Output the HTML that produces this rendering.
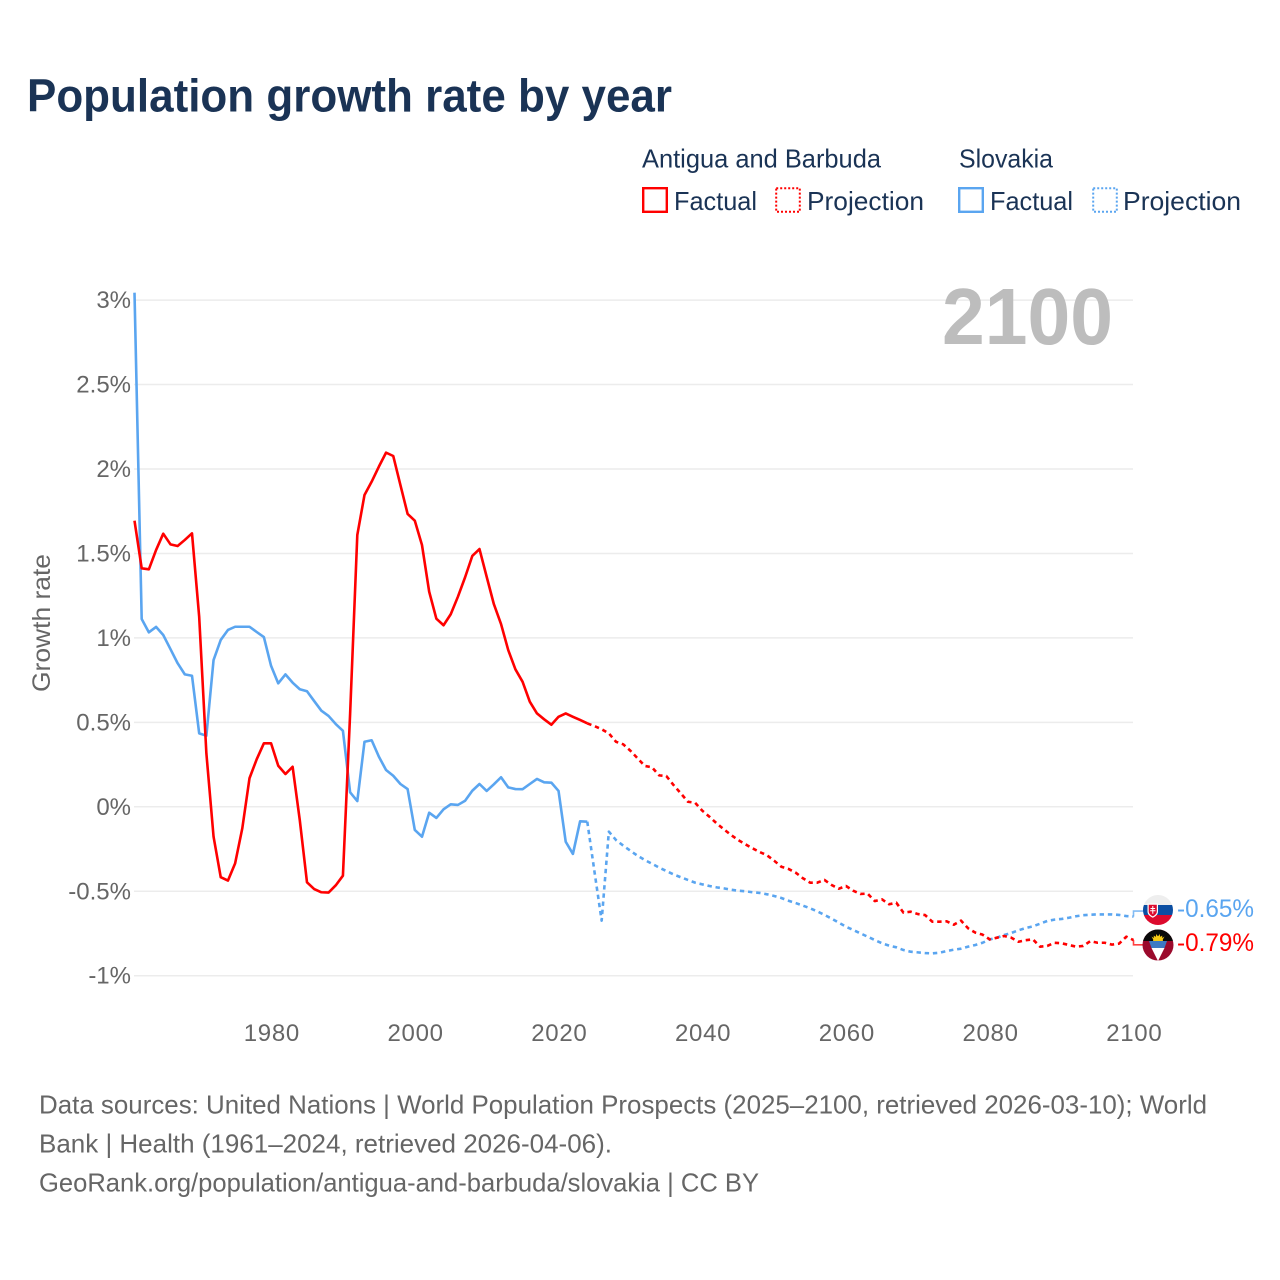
<!DOCTYPE html>
<html lang="en">
<head>
<meta charset="utf-8">
<title>Population growth rate by year</title>
<style>
html,body{margin:0;padding:0;background:#fff;}
svg{display:block;}
text{font-family:"Liberation Sans",sans-serif;}
</style>
</head>
<body>
<svg id="chart" width="1280" height="1280" viewBox="0 0 1280 1280" xmlns="http://www.w3.org/2000/svg">
<rect width="1280" height="1280" fill="#fff"/>
<text x="27" y="111.500" font-size="46" font-weight="700" fill="#1a3355" textLength="645" lengthAdjust="spacingAndGlyphs">Population growth rate by year</text>

<g fill="#1a3355" font-size="26">
<text x="642" y="167.500" textLength="239" lengthAdjust="spacingAndGlyphs">Antigua and Barbuda</text>
<text x="959" y="167.500" textLength="94" lengthAdjust="spacingAndGlyphs">Slovakia</text>
<g>
<rect x="643.2" y="188.2" width="23.6" height="23.6" fill="none" stroke="#ff0000" stroke-width="2.4"/>
<text x="674" y="210" textLength="83" lengthAdjust="spacingAndGlyphs">Factual</text>
</g>
<g>
<rect x="776.2" y="188.2" width="23.6" height="23.6" fill="none" stroke="#ff0000" stroke-width="2" stroke-dasharray="2 2"/>
<text x="807" y="210" textLength="117" lengthAdjust="spacingAndGlyphs">Projection</text>
</g>
<g>
<rect x="959.2" y="188.2" width="23.6" height="23.6" fill="none" stroke="#5aa5f0" stroke-width="2.4"/>
<text x="990" y="210" textLength="83" lengthAdjust="spacingAndGlyphs">Factual</text>
</g>
<g>
<rect x="1093.2" y="188.2" width="23.6" height="23.6" fill="none" stroke="#5aa5f0" stroke-width="2" stroke-dasharray="2 2"/>
<text x="1123" y="210" textLength="118" lengthAdjust="spacingAndGlyphs">Projection</text>
</g>
</g>

<g id="grid"></g>
<g id="y-ticks"></g>
<g id="x-ticks"></g>
<text transform="translate(50,692) rotate(-90)" font-size="25" fill="#666" textLength="138" lengthAdjust="spacingAndGlyphs">Growth rate</text>
<text x="942" y="344" font-size="80" font-weight="700" fill="#bdbdbd" textLength="171" lengthAdjust="spacingAndGlyphs">2100</text>

<g id="series"></g>

<g>
<clipPath id="clip-sk"><circle cx="1158" cy="910" r="15"/></clipPath>
<g clip-path="url(#clip-sk)">
<rect x="1143" y="895" width="30" height="10" fill="#eeeeee"/>
<rect x="1143" y="905" width="30" height="10" fill="#0b4ea2"/>
<rect x="1143" y="915" width="30" height="10" fill="#dc0a2d"/>
<path d="M1147.5 903.5h10.5v8c0 3-2.5 5-5.2 6.2c-2.8-1.2-5.3-3.200-5.300-6.200z" fill="#fff"/>
<path d="M1148.700 904.700h8.100v6.800c0 2.300-2 3.800-4 4.900c-2-1.100-4.100-2.600-4.100-4.900z" fill="#dc0a2d"/>
<path d="M1152.300 906h1v2h1.800v1h-1.800v1.300h2.200v1h-2.200v2.500h-1v-2.500h-2.200v-1h2.200v-1.300h-1.800v-1h1.800z" fill="#fff"/>
</g>
</g>
<g>
<clipPath id="clip-ag"><circle cx="1158" cy="945" r="15.500"/></clipPath>
<g clip-path="url(#clip-ag)">
<rect x="1142" y="929" width="32" height="33" fill="#9b0a2c"/>
<rect x="1142" y="929" width="32" height="12" fill="#0a0a0a"/>
<path d="M1153 941a5 5 0 0 1 10 0z" fill="#f6c915"/>
<path d="M1151.500 936.500l2.300 1.500l0-2.500l2 1.500l0.500-3l1.700 2.500l1.700-2.500l0.500 3l2-1.500l0 2.500l2.300-1.500l-2.500 4.500h-8z" fill="#f6c915"/>
<path d="M1149 941H1167L1164.500 948H1151.500Z" fill="#3d7ac4"/>
<path d="M1151.500 948H1164.500L1158 961Z" fill="#ffffff"/>
</g>
</g>
<text id="label-sk" x="1177" y="917" font-size="25" fill="#5aa5f0" textLength="77" lengthAdjust="spacingAndGlyphs">-0.65%</text>
<text id="label-ag" x="1177" y="951" font-size="25" fill="#ff0000" textLength="77" lengthAdjust="spacingAndGlyphs">-0.79%</text>

<g font-size="26" fill="#666">
<text x="39" y="1113.500" textLength="1168" lengthAdjust="spacingAndGlyphs">Data sources: United Nations | World Population Prospects (2025–2100, retrieved 2026-03-10); World</text>
<text x="39" y="1152.500" textLength="573" lengthAdjust="spacingAndGlyphs">Bank | Health (1961–2024, retrieved 2026-04-06).</text>
<text x="39" y="1191.500" textLength="720" lengthAdjust="spacingAndGlyphs">GeoRank.org/population/antigua-and-barbuda/slovakia | CC BY</text>
</g>
</svg>

<script>
const firstYear = 1961;
const lastYear = 2100;
const projectionStartYear = 2024;
const yTickValues = [3, 2.5, 2, 1.5, 1, 0.5, 0, -0.5, -1];
const yTickLabels = ['3%', '2.5%', '2%', '1.5%', '1%', '0.5%', '0%', '-0.5%', '-1%'];
const xTickYears = [1980, 2000, 2020, 2040, 2060, 2080, 2100];

// Antigua and Barbuda, 1961-2024
const antiguaFactual = [1.694,1.412,1.406,1.52,1.617,1.554,1.544,1.58,1.619,1.125,
0.317,-0.177,-0.417,-0.437,-0.335,-0.127,0.169,0.281,0.376,0.376,
0.243,0.194,0.237,-0.08,-0.447,-0.487,-0.506,-0.508,-0.465,-0.408,
0.55,1.609,1.846,1.925,2.014,2.097,2.077,1.905,1.734,1.694,
1.55,1.274,1.114,1.075,1.14,1.244,1.359,1.485,1.526,1.362,
1.2,1.082,0.928,0.814,0.74,0.622,0.553,0.518,0.486,0.533,
0.553,0.533,0.514,0.494];
// Antigua and Barbuda, 2024-2100
const antiguaProjection = [0.494,0.478,0.459,0.435,0.385,0.37,0.332,0.287,0.242,0.234,
0.186,0.182,0.129,0.08,0.03,0.024,-0.023,-0.059,-0.098,-0.133,
-0.167,-0.197,-0.222,-0.246,-0.268,-0.287,-0.319,-0.355,-0.368,-0.39,
-0.423,-0.449,-0.449,-0.433,-0.463,-0.485,-0.469,-0.497,-0.516,-0.514,
-0.558,-0.548,-0.577,-0.568,-0.627,-0.621,-0.635,-0.641,-0.68,-0.68,
-0.678,-0.698,-0.674,-0.72,-0.745,-0.757,-0.785,-0.775,-0.765,-0.775,
-0.799,-0.79,-0.785,-0.828,-0.824,-0.805,-0.808,-0.818,-0.828,-0.824,
-0.795,-0.805,-0.805,-0.816,-0.81,-0.769,-0.789];
// Slovakia, 1961-2024
const slovakiaFactual = [3.044,1.112,1.033,1.065,1.017,0.934,0.85,0.784,0.776,0.435,
0.421,0.869,0.988,1.047,1.066,1.066,1.066,1.035,1.005,0.835,
0.731,0.784,0.735,0.696,0.684,0.626,0.569,0.538,0.49,0.45,
0.086,0.034,0.385,0.394,0.297,0.218,0.184,0.135,0.105,-0.137,
-0.177,-0.035,-0.066,-0.015,0.015,0.011,0.036,0.095,0.135,0.094,
0.133,0.175,0.115,0.105,0.104,0.135,0.165,0.145,0.143,0.094,
-0.207,-0.279,-0.086,-0.088];
// Slovakia, 2024-2100
const slovakiaProjection = [-0.088,-0.384,-0.674,-0.147,-0.197,-0.23,-0.26,-0.29,-0.315,-0.337,
-0.36,-0.38,-0.4,-0.417,-0.433,-0.449,-0.459,-0.469,-0.477,-0.483,
-0.491,-0.497,-0.5,-0.506,-0.51,-0.518,-0.528,-0.54,-0.556,-0.57,
-0.585,-0.601,-0.619,-0.64,-0.662,-0.686,-0.71,-0.729,-0.749,-0.769,
-0.789,-0.808,-0.822,-0.832,-0.848,-0.858,-0.862,-0.866,-0.868,-0.864,
-0.854,-0.846,-0.84,-0.828,-0.818,-0.805,-0.785,-0.775,-0.759,-0.747,
-0.731,-0.718,-0.708,-0.692,-0.676,-0.668,-0.664,-0.657,-0.648,-0.642,
-0.639,-0.637,-0.637,-0.637,-0.64,-0.647,-0.65];

const SVG_NS = 'http://www.w3.org/2000/svg';
const plotLeft = 134.5;
const plotRight = 1133.5;
const xScale = year => plotLeft + (year - firstYear) * (plotRight - plotLeft) / (lastYear - firstYear);
const yScale = value => 806.8 - value * 168.9;
const make = (tag, attrs) => {
  const el = document.createElementNS(SVG_NS, tag);
  Object.keys(attrs).forEach(k => el.setAttribute(k, attrs[k]));
  return el;
};

const gridGroup = document.getElementById('grid');
const yTickGroup = document.getElementById('y-ticks');
yTickValues.forEach((value, i) => {
  const y = yScale(value);
  const line = make('line', {x1: plotLeft - 0.5, x2: plotRight - 0.5, y1: y, y2: y, stroke: '#ececec', 'stroke-width': 1.5});
  
  
  gridGroup.appendChild(line);
  const label = make('text', {x: 131, y: y + 8, 'text-anchor': 'end', 'font-size': 24, fill: '#666'});
  
  
  label.textContent = yTickLabels[i];
  yTickGroup.appendChild(label);
});

const xTickGroup = document.getElementById('x-ticks');
xTickYears.forEach(year => {
  const label = make('text', {x: xScale(year) + 0.8, y: 1041, 'text-anchor': 'middle', 'font-size': 24, 'letter-spacing': '0.7', fill: '#666'});
  
  
  label.textContent = String(year);
  xTickGroup.appendChild(label);
});

const seriesGroup = document.getElementById('series');
function drawLine(values, startYear, color, dashed, name) {
  const d = values.map((v, i) => (i ? 'L' : 'M') + xScale(startYear + i).toFixed(2) + ' ' + yScale(v).toFixed(2)).join('');
  const path = make('path', {d: d, fill: 'none', stroke: color, 'stroke-width': 2.6, 'stroke-linejoin': 'round'});
  if (dashed) path.setAttribute('stroke-dasharray', '4.4 3.8');
  
  
  seriesGroup.appendChild(path);
}
function drawConnector(values, color, offset, name) {
  const endY = yScale(values[values.length - 1]);
  const d = 'M' + plotRight + ' ' + endY.toFixed(2) + 'V' + (endY + offset).toFixed(2) + 'H1146';
  const path = make('path', {d: d, fill: 'none', stroke: color, 'stroke-width': 1.6, opacity: 0.75});
  
  
  seriesGroup.appendChild(path);
}
drawLine(slovakiaFactual, firstYear, '#5aa5f0', false, 'slovakia-factual-line');
drawLine(slovakiaProjection, projectionStartYear, '#5aa5f0', true, 'slovakia-projection-line');
drawLine(antiguaFactual, firstYear, '#ff0000', false, 'antigua-factual-line');
drawLine(antiguaProjection, projectionStartYear, '#ff0000', true, 'antigua-projection-line');
drawConnector(slovakiaProjection, '#5aa5f0', -5.5, 'slovakia-label-connector');
drawConnector(antiguaProjection, '#ff0000', 4.8, 'antigua-label-connector');
</script>
</body>
</html>
